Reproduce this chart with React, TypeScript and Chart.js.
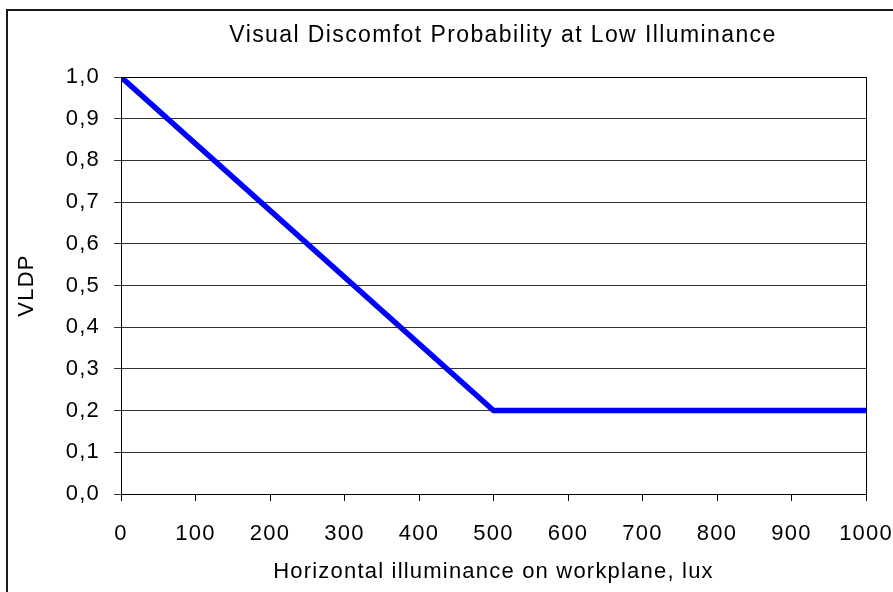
import React, { useEffect, useRef } from "react";
import { Chart, registerables } from "chart.js";

Chart.register(...registerables);

const illuminance = [0, 500, 1000];
const vldp = [1.0, 0.2, 0.2];
const chartTitle = "Visual Discomfot Probability at Low Illuminance";
const xAxisTitle = "Horizontal illuminance on workplane, lux";
const yAxisTitle = "VLDP";
const xMin = 0;
const xMax = 1000;
const xStep = 100;
const yMin = 0;
const yMax = 1;
const yStep = 0.1;

const FONT = "'Liberation Sans', Arial, sans-serif";
const SPACING = "1.2px";

const framePlugin = {
  id: "frame",
  beforeLayout(chart: any) {
    chart.ctx.letterSpacing = SPACING;
  },
  beforeDraw(chart: any) {
    const ctx = chart.ctx;
    ctx.letterSpacing = SPACING;
    ctx.save();
    ctx.fillStyle = "#ffffff";
    ctx.fillRect(0, 0, chart.width, chart.height);
    ctx.fillStyle = "#1a1a1a";
    ctx.fillRect(6, 9, 2, chart.height - 9);
    ctx.fillRect(6, 9, chart.width - 6, 2);
    ctx.restore();
  },
  afterDatasetsDraw(chart: any) {
    const { ctx, chartArea } = chart;
    ctx.save();
    ctx.strokeStyle = "#000000";
    ctx.lineWidth = 1;
    ctx.beginPath();
    ctx.moveTo(Math.round(chartArea.right) + 0.5, chartArea.top);
    ctx.lineTo(Math.round(chartArea.right) + 0.5, chartArea.bottom);
    ctx.moveTo(chartArea.left, Math.round(chartArea.top) + 0.5);
    ctx.lineTo(chartArea.right + 1, Math.round(chartArea.top) + 0.5);
    ctx.stroke();
    ctx.fillStyle = "#000000";
    ctx.font = `23px ${FONT}`;
    ctx.letterSpacing = "1.4px";
    ctx.textAlign = "center";
    ctx.textBaseline = "middle";
    ctx.fillText(chartTitle, 503, 36);
    ctx.restore();
  },
};

export default function App() {
  const ref = useRef<HTMLCanvasElement | null>(null);
  useEffect(() => {
    if (!ref.current) return;
    const chart = new Chart(ref.current, {
      type: "scatter",
      data: {
        datasets: [
          {
            data: illuminance.map((x, i) => ({ x, y: vldp[i] })),
            showLine: true,
            borderColor: "#0000ff",
            backgroundColor: "#0000ff",
            borderWidth: 5.5,
            pointRadius: 0,
            pointHoverRadius: 0,
            borderCapStyle: "butt",
            borderJoinStyle: "miter",
          },
        ],
      },
      options: {
        responsive: false,
        animation: false,
        devicePixelRatio: 1,
        layout: { padding: { top: 77, right: 27, bottom: 0, left: 0 } },
        plugins: {
          legend: { display: false },
          tooltip: { enabled: false },
          title: { display: false },
        },
        scales: {
          x: {
            type: "linear",
            min: xMin,
            max: xMax,
            afterFit(axis: any) {
              axis.height = 98;
              axis.paddingLeft = 0;
              axis.paddingRight = 0;
            },
            ticks: {
              stepSize: xStep,
              color: "#000000",
              font: { family: FONT, size: 22 },
              padding: 20,
              maxRotation: 0,
              autoSkip: false,
              callback: (v: any) => String(Math.round(Number(v))),
            },
            grid: {
              drawOnChartArea: false,
              drawTicks: true,
              tickLength: 7,
              color: "#000000",
            },
            border: { display: true, color: "#000000", width: 1 },
            title: {
              display: true,
              text: xAxisTitle,
              color: "#000000",
              font: { family: FONT, size: 22 },
              padding: { top: 0, bottom: 7 },
            },
          },
          y: {
            type: "linear",
            min: yMin,
            max: yMax,
            afterFit(axis: any) {
              axis.width = 121;
              axis.paddingTop = 0;
              axis.paddingBottom = 0;
            },
            ticks: {
              stepSize: yStep,
              color: "#000000",
              font: { family: FONT, size: 22 },
              padding: 14,
              callback: (v: any) => (Math.round(Number(v) * 10) / 10).toFixed(1).replace(".", ","),
            },
            grid: {
              drawOnChartArea: true,
              drawTicks: true,
              tickLength: 7,
              color: "#333333",
            },
            border: { display: true, color: "#000000", width: 1 },
            title: {
              display: true,
              text: yAxisTitle,
              color: "#000000",
              font: { family: FONT, size: 22 },
              padding: { top: 14, bottom: 0 },
            },
          },
        },
      },
      plugins: [framePlugin],
    });
    return () => chart.destroy();
  }, []);
  return (
    <div style={{ position: "fixed", left: 0, top: 0, width: 893, height: 592 }}>
      <canvas ref={ref} width={893} height={592} style={{ display: "block" }} />
    </div>
  );
}
